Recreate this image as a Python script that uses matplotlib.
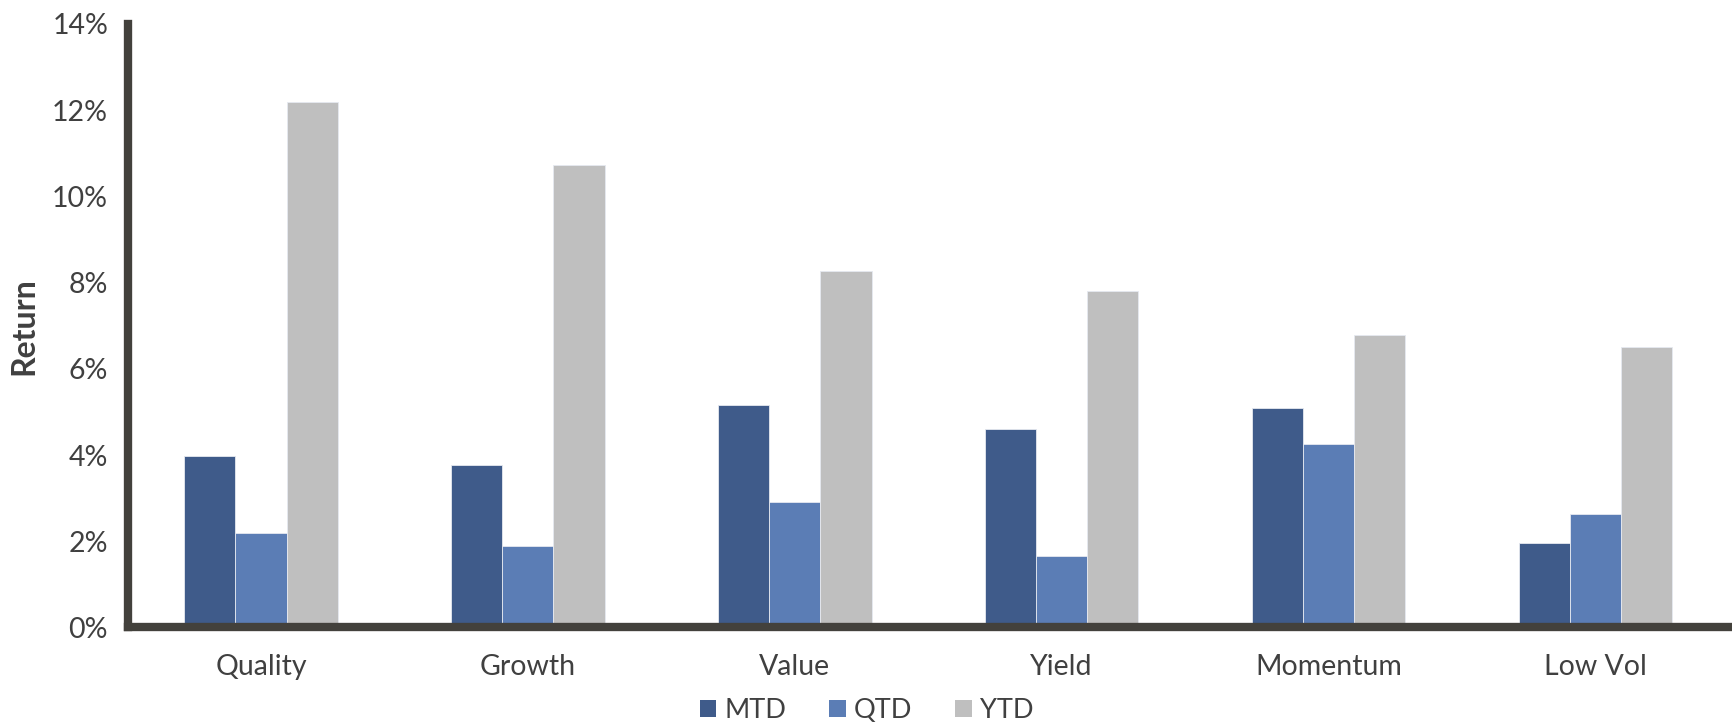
import numpy as np
import matplotlib
matplotlib.use("Agg")
import matplotlib.pyplot as plt
from matplotlib.patches import Patch

plt.rcParams['font.family'] = ['Lato', 'DejaVu Sans']

categories = ["Quality", "Growth", "Value", "Yield", "Momentum", "Low Vol"]
mtd = [3.97, 3.77, 5.17, 4.61, 5.10, 1.95]
qtd = [2.19, 1.90, 2.90, 1.65, 4.25, 2.63]
ytd = [12.18, 10.72, 8.27, 7.81, 6.78, 6.50]
series_names = ["MTD", "QTD", "YTD"]
colors = ["#3F5B8A", "#5B7DB5", "#BFBFBF"]
yticks = [0, 2, 4, 6, 8, 10, 12, 14]

text_color = "#404040"
axis_color = "#43413C"

fig = plt.figure(figsize=(17.33, 7.24), dpi=100)
ax = fig.add_axes([0.0736, 0.1333, 0.9240, 0.8336])

x = np.arange(len(categories))
w = 0.192
for i, (vals, c) in enumerate(zip([mtd, qtd, ytd], colors)):
    ax.bar(x + (i - 1) * w, vals, width=w, color=c, edgecolor="#E6E9F0", linewidth=0.6)

ax.set_xlim(-0.5, len(categories) - 0.5)
ax.set_ylim(0, 14)
ax.set_yticks(yticks)
ax.set_yticklabels([f"{t}%" for t in yticks])
ax.set_xticks(x)
ax.set_xticklabels(categories)
ax.tick_params(axis="both", length=0, labelsize=20.5, colors=text_color)
ax.tick_params(axis="y", pad=14)
ax.tick_params(axis="x", pad=19)

for s in ["top", "right"]:
    ax.spines[s].set_visible(False)
for s in ["left", "bottom"]:
    ax.spines[s].set_linewidth(6)
    ax.spines[s].set_color(axis_color)

ax.set_ylabel("Return", fontsize=23, fontweight="bold", color=text_color, labelpad=10)

handles = [Patch(facecolor=c, edgecolor="none") for c in colors]
fig.legend(handles, series_names, loc="lower center", bbox_to_anchor=(0.5, -0.032),
           ncol=3, frameon=False, fontsize=19.5, labelcolor=text_color,
           handlelength=0.6, handleheight=0.6, handletextpad=0.3, columnspacing=1.6)

fig.savefig("out.png", dpi=100)
